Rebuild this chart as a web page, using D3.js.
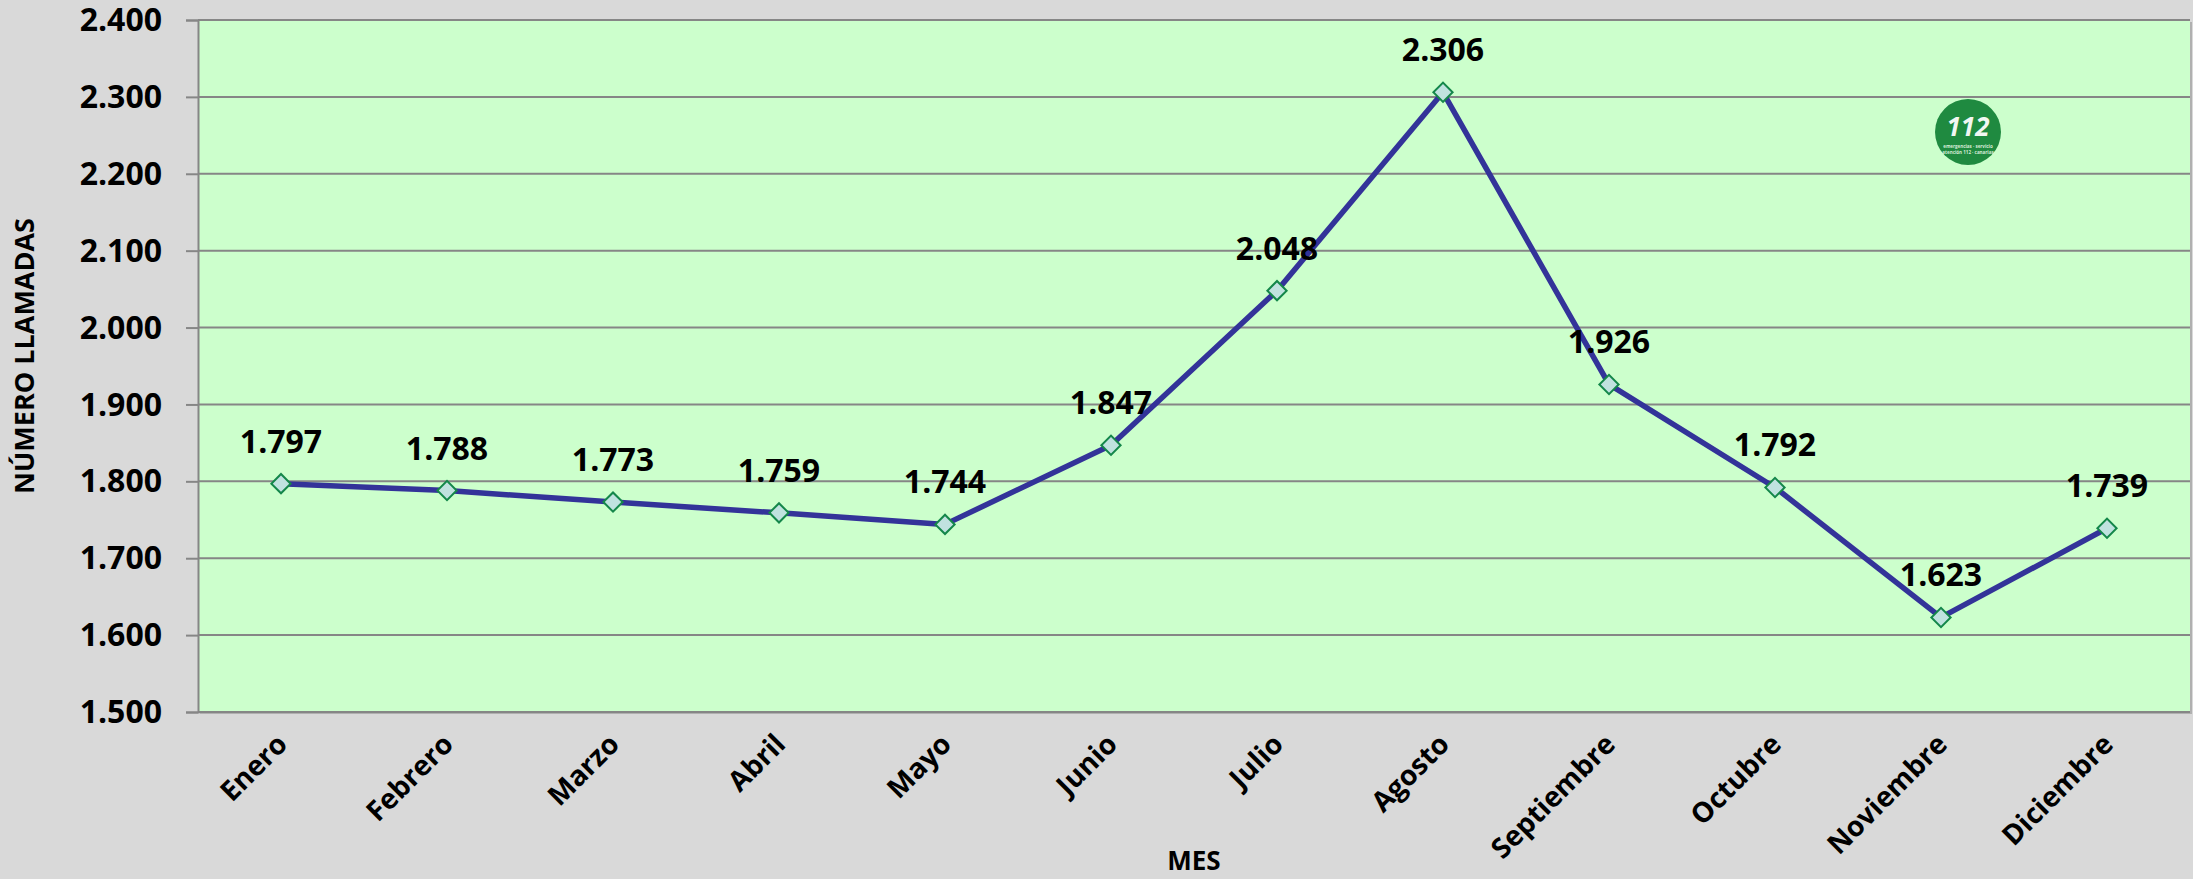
<!DOCTYPE html>
<html>
<head>
<meta charset="utf-8">
<script src="https://cdn.jsdelivr.net/npm/d3@7"></script>
<style>
    body { margin: 0; background: #d9d9d9; }
    svg { display: block; }
    text { font-family: "Open Sans", "DejaVu Sans", sans-serif; font-weight: bold; fill: #000; }
</style>
</head>
<body>
<div id="chart"></div>
<script>

// data
let months = ['Enero', 'Febrero', 'Marzo', 'Abril', 'Mayo', 'Junio', 'Julio',
    'Agosto', 'Septiembre', 'Octubre', 'Noviembre', 'Diciembre'];
let calls = [1797, 1788, 1773, 1759, 1744, 1847, 2048, 2306, 1926, 1792, 1623, 1739];
let yTicks = [1500, 1600, 1700, 1800, 1900, 2000, 2100, 2200, 2300, 2400];

let width = 2193, height = 879;
let margin = {top: 20, right: 3, bottom: 167, left: 198};
let innerW = width - margin.left - margin.right;
let innerH = height - margin.top - margin.bottom;

// number format with dot as thousands separator
let fmt = d3.formatLocale({decimal: ',', thousands: '.', grouping: [3], currency: ['', '']}).format(',');

let svg = d3.select('#chart').append('svg')
    .attr('width', width)
    .attr('height', height);

svg.append('rect')
    .attr('width', width)
    .attr('height', height)
    .attr('fill', '#d9d9d9');

let g = svg.append('g')
    .attr('transform', `translate(${margin.left}, ${margin.top})`);

// scales
let x = d3.scaleBand()
    .domain(months)
    .range([0, innerW])
    .padding(0);

let y = d3.scaleLinear()
    .domain([1500, 2400])
    .range([innerH, 0]);

let cx = d => x(d) + x.bandwidth() / 2;

// plot area
g.append('rect')
    .attr('x', 2)
    .attr('y', 2)
    .attr('width', innerW)
    .attr('height', innerH)
    .attr('fill', '#b0b0b0');

g.append('rect')
    .attr('width', innerW)
    .attr('height', innerH)
    .attr('fill', '#ccffcc');

// y axis with gridlines
let yAxis = g.append('g')
    .attr('class', 'axis y-axis')
    .call(d3.axisLeft(y)
        .tickValues(yTicks)
        .tickSize(12)
        .tickPadding(24)
        .tickFormat(fmt));

yAxis.select('.domain').attr('stroke', '#868686').attr('stroke-width', 2);
yAxis.selectAll('.tick line').attr('stroke', '#868686').attr('stroke-width', 2);
yAxis.selectAll('.tick text')
    .style('font-size', '32px')
    .attr('dy', '0.33em');

g.append('g')
    .attr('class', 'grid')
    .selectAll('line')
    .data(yTicks)
    .enter().append('line')
    .attr('x1', 0)
    .attr('x2', innerW)
    .attr('y1', d => y(d))
    .attr('y2', d => y(d))
    .attr('stroke', '#868686')
    .attr('stroke-width', 2);

// x axis labels
let xAxis = g.append('g')
    .attr('class', 'axis x-axis')
    .attr('transform', `translate(0, ${innerH})`)
    .call(d3.axisBottom(x).tickSize(0).tickPadding(0));

xAxis.select('.domain').remove();
xAxis.selectAll('.tick text')
    .style('font-size', '28px')
    .attr('text-anchor', 'end')
    .attr('transform', 'translate(8, 34) rotate(-45)')
    .attr('dy', 0)
    .attr('y', 0);

// line
let line = d3.line()
    .x((d, i) => cx(months[i]))
    .y(d => y(d));

g.append('path')
    .datum(calls)
    .attr('d', line)
    .attr('fill', 'none')
    .attr('stroke', '#333399')
    .attr('stroke-width', 5.5)
    .attr('stroke-linejoin', 'round');

// markers (rotated squares)
let diamond = d3.symbol().type(d3.symbolSquare).size(185);

g.selectAll('.marker')
    .data(calls)
    .enter().append('path')
    .attr('class', 'marker')
    .attr('d', diamond)
    .attr('transform', (d, i) => `translate(${cx(months[i])}, ${y(d)}) rotate(45)`)
    .attr('fill', '#c0e2df')
    .attr('stroke', '#14874a')
    .attr('stroke-width', 2);

// value labels
g.selectAll('.value-label')
    .data(calls)
    .enter().append('text')
    .attr('class', 'value-label')
    .attr('x', (d, i) => cx(months[i]))
    .attr('y', d => y(d) - 31)
    .attr('text-anchor', 'middle')
    .style('font-size', '32px')
    .text(d => fmt(d));

// axis titles
svg.append('text')
    .attr('transform', `translate(${margin.left + innerW / 2}, 870)`)
    .attr('text-anchor', 'middle')
    .style('font-size', '26px')
    .text('MES');

svg.append('text')
    .attr('transform', `translate(34, 356) rotate(-90)`)
    .attr('text-anchor', 'middle')
    .style('font-size', '27px')
    .text('NÚMERO LLAMADAS');

// 112 logo
let logo = svg.append('g')
    .attr('transform', 'translate(1968, 132)');

logo.append('circle')
    .attr('r', 33)
    .attr('fill', '#1f8a40');

logo.append('text')
    .attr('y', 4)
    .attr('text-anchor', 'middle')
    .style('font-size', '26px')
    .style('font-style', 'italic')
    .style('fill', '#f2f7f2')
    .text('112');

logo.append('text')
    .attr('y', 16)
    .attr('text-anchor', 'middle')
    .style('font-size', '4.5px')
    .style('fill', '#d8ecd8')
    .text('emergencias · servicio');

logo.append('text')
    .attr('y', 22)
    .attr('text-anchor', 'middle')
    .style('font-size', '4.5px')
    .style('fill', '#d8ecd8')
    .text('atención 112 · canarias');

</script>
</body>
</html>
